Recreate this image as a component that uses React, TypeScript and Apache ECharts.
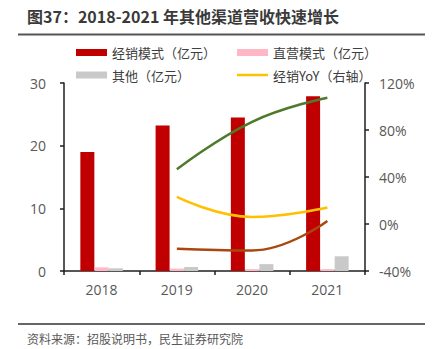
import React, { useEffect, useRef } from "react";
import * as echarts from "echarts";

const years = ["2018", "2019", "2020", "2021"];
const distribution = [19.0, 23.2, 24.5, 27.9];
const direct = [0.58, 0.38, 0.3, 0.3];
const other = [0.43, 0.64, 1.1, 2.35];
const distributionYoY = [null, 23, 6, 14];
const directYoY = [null, -21, -22.5, 2.5];
const otherYoY = [null, 46.5, 87, 107.5];

const FONT = "Open Sans, Noto Sans CJK SC, sans-serif";
const TFONT = "Noto Sans CJK SC, sans-serif";

export default function App() {
  const ref = useRef<HTMLDivElement>(null);
  useEffect(() => {
    if (!ref.current) return;
    const chart = echarts.init(ref.current, null, { renderer: "svg" });
    const legendBase = {
      padding: 0,
      itemWidth: 31,
      itemHeight: 7,
      textStyle: { fontSize: 13, color: "#404040", fontFamily: TFONT },
      selectedMode: false,
    };
    const axisLine = { show: true, lineStyle: { color: "#1f1f1f", width: 1.5 } };
    const axisTick = { show: true, length: 4, lineStyle: { color: "#1f1f1f", width: 1.5 } };
    const axisLabel = { fontSize: 14, color: "#595959", fontFamily: FONT };
    const toLine = (arr: (number | null)[]) => arr.map((v) => (v === null ? "-" : v));
    chart.setOption({
      animation: false,
      textStyle: { fontFamily: FONT },
      grid: { left: 64, right: 71, top: 83, bottom: 78, containLabel: false },
      legend: [
        { ...legendBase, left: 76, top: 46, data: [{ name: "经销模式（亿元）", icon: "rect" }] },
        { ...legendBase, left: 237, top: 46, data: [{ name: "直营模式（亿元）", icon: "rect" }] },
        { ...legendBase, left: 76, top: 68.5, data: [{ name: "其他（亿元）", icon: "rect" }] },
        { ...legendBase, left: 237, top: 68.5, itemHeight: 2.5, data: [{ name: "经销YoY（右轴）", icon: "rect" }] },
      ],
      xAxis: {
        type: "category",
        data: years,
        axisLine,
        axisTick: { ...axisTick, alignWithLabel: false },
        axisLabel: { ...axisLabel, margin: 11 },
      },
      yAxis: [
        {
          type: "value",
          min: 0,
          max: 30,
          interval: 10,
          axisLine,
          axisTick,
          splitLine: { show: false },
          axisLabel: { ...axisLabel, margin: 18 },
        },
        {
          type: "value",
          min: -40,
          max: 120,
          interval: 40,
          position: "right",
          axisLine,
          axisTick,
          splitLine: { show: false },
          axisLabel: { ...axisLabel, margin: 14, formatter: "{value}%" },
        },
      ],
      series: [
        {
          name: "经销模式（亿元）",
          type: "bar",
          data: distribution,
          barWidth: 14,
          barGap: "2%",
          itemStyle: { color: "#C00000" },
        },
        {
          name: "直营模式（亿元）",
          type: "bar",
          data: direct,
          barWidth: 14,
          barGap: "2%",
          itemStyle: { color: "#FFB7C5" },
        },
        {
          name: "其他（亿元）",
          type: "bar",
          data: other,
          barWidth: 14,
          barGap: "2%",
          itemStyle: { color: "#C9C9C9" },
        },
        {
          name: "经销YoY（右轴）",
          type: "line",
          yAxisIndex: 1,
          data: toLine(distributionYoY),
          smooth: 0.45,
          showSymbol: false,
          lineStyle: { color: "#FFC000", width: 2.5 },
          itemStyle: { color: "#FFC000" },
          z: 5,
        },
        {
          name: "直营YoY（右轴）",
          type: "line",
          yAxisIndex: 1,
          data: toLine(directYoY),
          smooth: 0.45,
          showSymbol: false,
          lineStyle: { color: "#A9470F", width: 2.5 },
          itemStyle: { color: "#A9470F" },
          z: 5,
        },
        {
          name: "其他YoY（右轴）",
          type: "line",
          yAxisIndex: 1,
          data: toLine(otherYoY),
          smooth: 0.45,
          showSymbol: false,
          lineStyle: { color: "#4E7A2C", width: 2.5 },
          itemStyle: { color: "#4E7A2C" },
          z: 5,
        },
      ],
      graphic: [
        {
          type: "text",
          left: 27,
          top: 8,
          style: {
            text: "图37：2018-2021 年其他渠道营收快速增长",
            font: `bold 16px ${TFONT}`,
            fill: "#3a3a3a",
          },
        },
        {
          type: "line",
          shape: { x1: 18, y1: 34.5, x2: 425, y2: 34.5 },
          style: { stroke: "#555555", lineWidth: 2 },
        },
        {
          type: "line",
          shape: { x1: 18, y1: 324, x2: 425, y2: 324 },
          style: { stroke: "#666666", lineWidth: 2 },
        },
        {
          type: "text",
          left: 27,
          top: 332,
          style: {
            text: "资料来源：招股说明书，民生证券研究院",
            font: `12px ${TFONT}`,
            fill: "#595959",
          },
        },
      ],
    });
    return () => chart.dispose();
  }, []);
  return (
    <div
      ref={ref}
      style={{ position: "absolute", left: 0, top: 0, width: 436, height: 349, background: "#fff" }}
    />
  );
}
